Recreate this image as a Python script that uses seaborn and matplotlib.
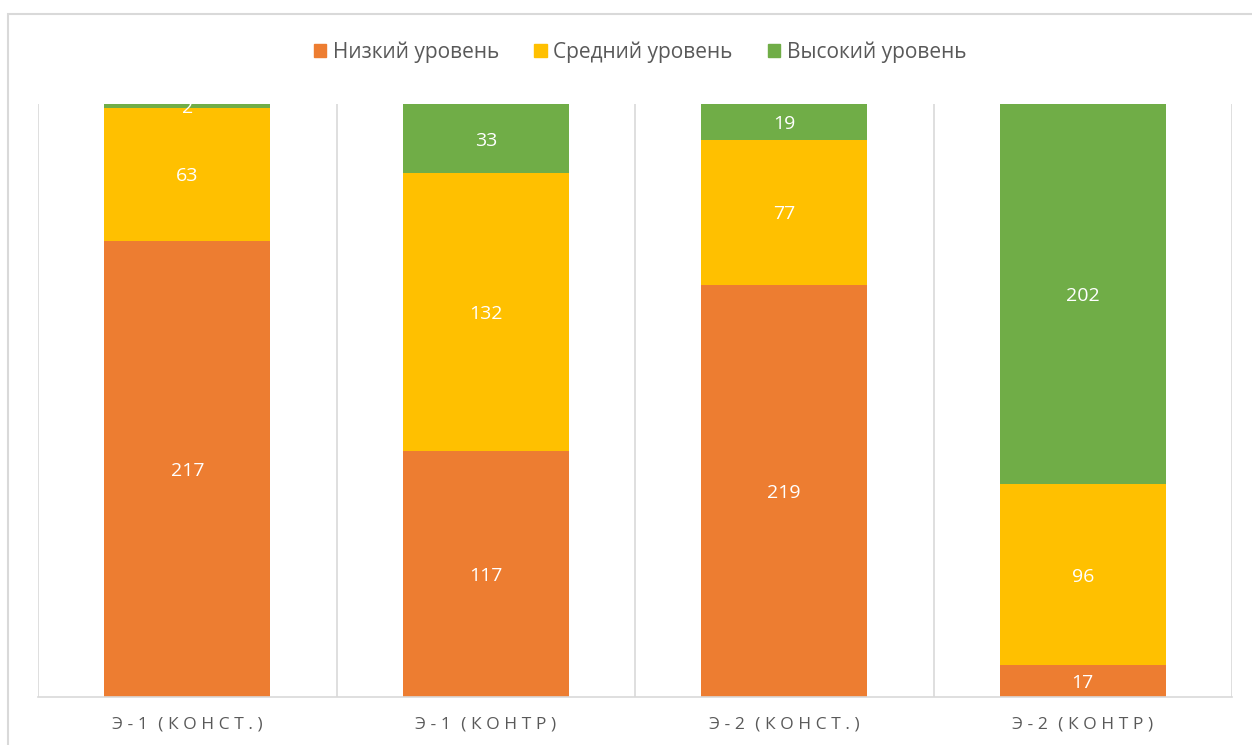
import matplotlib
matplotlib.use("Agg")
import matplotlib.pyplot as plt
import seaborn as sns
import pandas as pd
import numpy as np
from matplotlib.patches import Rectangle

categories = ["Э-1 (КОНСТ.)", "Э-1 (КОНТР)", "Э-2 (КОНСТ.)", "Э-2 (КОНТР)"]
series_names = ["Низкий уровень", "Средний уровень", "Высокий уровень"]
low = [217, 117, 219, 17]
mid = [63, 132, 77, 96]
high = [2, 33, 19, 202]
colors = ["#ED7D31", "#FFC000", "#70AD47"]

sns.set_theme(style="white")
plt.rcParams['font.family'] = ['Open Sans', 'DejaVu Sans']

vals = np.array([low, mid, high], dtype=float)
totals = vals.sum(axis=0)
pct = vals / totals * 100
cum = np.cumsum(pct, axis=0)

fig = plt.figure(figsize=(12.52, 7.45), dpi=100)
ax = fig.add_axes([38/1252, 48/745, (1232-38)/1252, (697-104)/745])

width = 0.556
for i in reversed(range(3)):
    df = pd.DataFrame({"cat": categories, "val": cum[i]})
    sns.barplot(data=df, x="cat", y="val", color=colors[i], width=width,
                ax=ax, saturation=1, linewidth=0, order=categories)

# data labels
for j in range(len(categories)):
    for i in range(3):
        bottom = cum[i-1][j] if i > 0 else 0
        center = bottom + pct[i][j] / 2
        ax.text(j, center, f"{int(vals[i][j])}", ha="center", va="center_baseline",
                color="white", fontsize=14)

ax.set_ylim(0, 100)
ax.set_xlim(-0.5, 3.5)
ax.set_yticks([])
ax.set_xlabel("")
ax.set_ylabel("")
for x in np.arange(-0.5, 4.0, 1.0):
    ax.axvline(x, color="#D9D9D9", linewidth=1.2, zorder=0)
for s in ["top", "right", "left"]:
    ax.spines[s].set_visible(False)
ax.spines["bottom"].set_color("#D9D9D9")
ax.spines["bottom"].set_linewidth(1.2)


def letterspace(s):
    out = ""
    for k, ch in enumerate(s):
        if ch == " ":
            out += "\u2009 \u2009"
            continue
        out += ch
        if k < len(s) - 1 and s[k + 1] != " ":
            out += "\u2009\u200a"
    return out


spaced = [letterspace(c) for c in categories]
ax.set_xticks(range(len(categories)))
ax.set_xticklabels(spaced, fontsize=12.5, color="#595959")
ax.tick_params(axis="x", length=0, pad=14)

handles = [Rectangle((0, 0), 1, 1, color=c) for c in colors]
fig.legend(handles, series_names, loc="center", bbox_to_anchor=(640/1252, 1-52/745),
           ncol=3, frameon=False, fontsize=15, handlelength=0.6, handleheight=0.6,
           handletextpad=0.3, columnspacing=1.7, labelcolor="#595959")

fig.add_artist(Rectangle((8/1252, -0.1), 1.2, 0.1 + (745-14)/745, transform=fig.transFigure,
                         fill=False, edgecolor="#D9D9D9", linewidth=1.5))

fig.savefig("out.png", dpi=100, facecolor="white")
